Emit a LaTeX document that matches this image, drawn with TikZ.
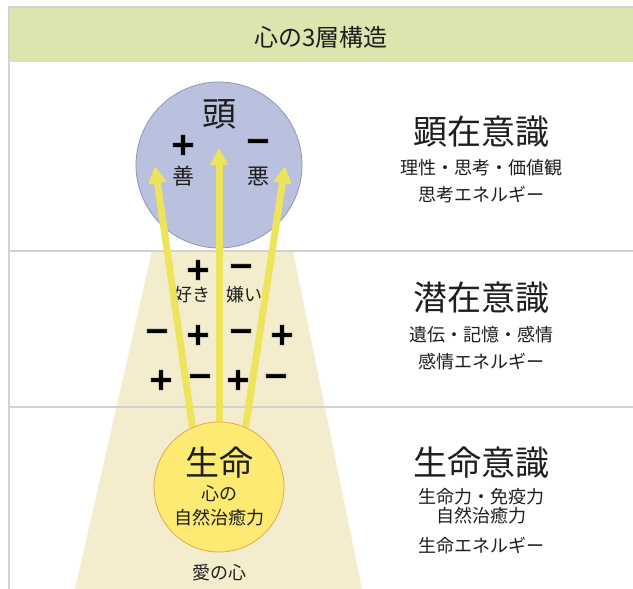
\documentclass[tikz,border=0pt]{standalone}
\usepackage{fontspec}
\setmainfont{Noto Sans CJK JP}
\newfontfamily\signfont[BoldFeatures={FakeBold=2}]{DejaVu Sans}
\usetikzlibrary{arrows.meta}
\definecolor{bandgreen}{HTML}{DDE5AE}
\definecolor{framegray}{HTML}{D2D2D2}
\definecolor{cone}{HTML}{F3EDCD}
\definecolor{headblue}{HTML}{B9C1DF}
\definecolor{headedge}{HTML}{8E95B5}
\definecolor{lifeyellow}{HTML}{FCEA72}
\definecolor{lifeedge}{HTML}{E9A54A}
\definecolor{rayyellow}{HTML}{ECE55C}
\definecolor{ink}{HTML}{1E1E1E}
\begin{document}
\begin{tikzpicture}
  [ x=1pt, y=-1pt,
    big/.style={text=ink, inner sep=0, font=\fontsize{34}{36}\selectfont},
    mid/.style={text=ink, inner sep=0, font=\fontsize{22}{24}\selectfont},
    small/.style={text=ink, inner sep=0, font=\fontsize{18}{20}\selectfont},
    sign/.style={text=black, inner sep=0, font=\signfont\bfseries\fontsize{31}{31}\selectfont},
    ray/.style={draw=rayyellow, line width=7pt,
      -{Triangle[length=17pt,width=17pt]}},
    rule/.style={draw=framegray, line width=1.5pt}
  ]
  \useasboundingbox (0,0) rectangle (633,589);

  % title band and layers
  \fill [bandgreen] (9,8) rectangle (633,62);
  \fill [cone] (152,251) -- (293,251) -- (362,589) -- (75,589) -- cycle;
  \draw [rule] (9,589) -- (9,7) -- (633,7);
  \draw [rule] (9,251) -- (633,251);
  \draw [rule] (9,407) -- (633,407);
  \node (title) at (321,37) [text=ink, inner sep=0,
    font=\fontsize{24}{26}\selectfont] {心の3層構造};

  % head
  \node (head) at (219,165) [circle, minimum size=166pt, inner sep=0,
    fill=headblue, draw=headedge, line width=0.8pt] {};
  \node (headtxt) at (219,114) [big] {頭};
  \node (gplus)  at (183,145) [sign] {+};
  \node (good)   at (183,176) [mid] {善};
  \node (bminus) at (258,145) [sign] {−};
  \node (bad)    at (258,176) [mid] {悪};

  % subconscious signs
  \node (likep) at (198,270) [sign] {+};
  \node (dislm) at (241,270) [sign] {−};
  \node (like)    at (192,295) [small] {好き};
  \node (dislike) at (244,295) [small] {嫌い};
  \node (s21) at (157,335) [sign] {−};
  \node (s22) at (198,335) [sign] {+};
  \node (s23) at (241,335) [sign] {−};
  \node (s24) at (282,335) [sign] {+};
  \node (s31) at (161,380) [sign] {+};
  \node (s32) at (200,380) [sign] {−};
  \node (s33) at (238,380) [sign] {+};
  \node (s34) at (276,380) [sign] {−};

  % rays and life
  \coordinate (tipl) at (155,166);
  \coordinate (tipm) at (219,148);
  \coordinate (tipr) at (285,166);
  \node (life) at (219,487) [circle, minimum size=130pt, inner sep=0] {};
  \draw [ray] (life.114) -- (tipl);
  \draw [ray] (life.north) -- (tipm);
  \draw [ray] (life.66) -- (tipr);
  \node at (life) [circle, minimum size=130pt, inner sep=0,
    fill=lifeyellow, draw=lifeedge, line width=0.8pt] {};
  \node (lifetxt) at (219,463) [big] {生命};
  \node (heart)   at (219,494) [small] {心の};
  \node (heal)    at (219,518) [small] {自然治癒力};
  \node (love)    at (219,573) [small] {愛の心};

  % right column
  \node (c1)  at (481,132) [big]   {顕在意識};
  \node (c1a) at (481,168) [small] {理性・思考・価値観};
  \node (c1b) at (481,195) [small] {思考エネルギー};
  \node (c2)  at (481,298) [big]   {潜在意識};
  \node (c2a) at (481,335) [small] {遺伝・記憶・感情};
  \node (c2b) at (481,362) [small] {感情エネルギー};
  \node (c3)  at (481,463) [big]   {生命意識};
  \node (c3a) at (481,497) [small] {生命力・免疫力};
  \node (c3b) at (481,516) [small] {自然治癒力};
  \node (c3c) at (481,546) [small] {生命エネルギー};
\end{tikzpicture}
\end{document}
